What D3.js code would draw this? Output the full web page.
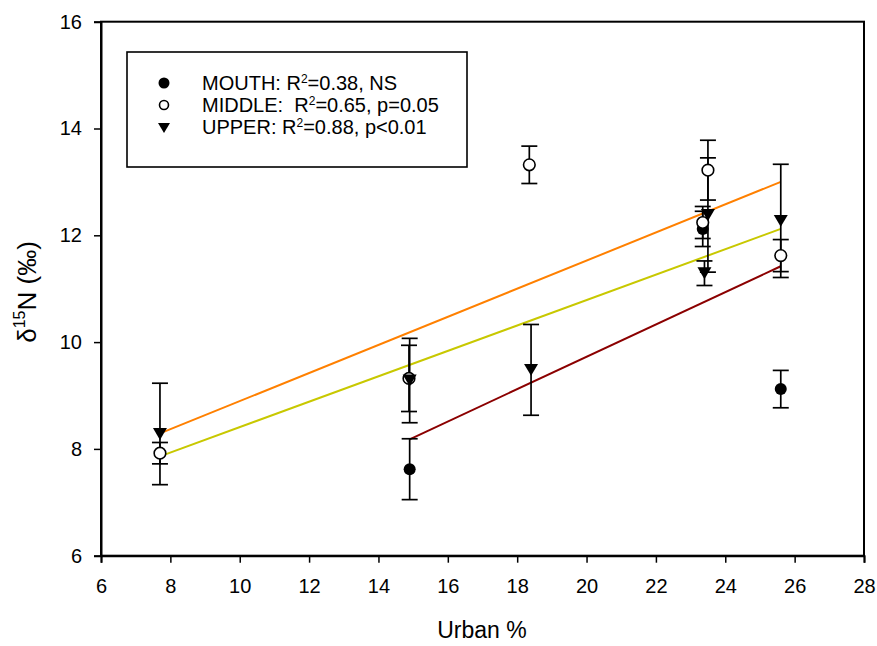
<!DOCTYPE html>
<html>
<head>
<meta charset="utf-8">
<script src="https://cdn.jsdelivr.net/npm/d3@7"></script>
<style>
  html, body { margin: 0; padding: 0; background: #fff; }
  svg { display: block; font-family: Arial, "Liberation Sans", sans-serif; }
</style>
</head>
<body>
<svg id="chart" width="877" height="646"></svg>
<script>
// Urban cover (%) vs. δ15N, three river reaches
const mouthX  = [14.9, 23.35, 25.6];
const mouthY  = [7.62, 12.12, 9.12];
const mouthSE = [0.57, 0.33, 0.35];

const middleX  = [7.7, 14.88, 18.35, 23.35, 23.5, 25.6];
const middleY  = [7.92, 9.32, 13.32, 12.24, 13.22, 11.62];
const middleSE = [0.2, 0.62, 0.35, 0.3, 0.56, 0.3];

const upperX  = [7.7, 14.9, 18.4, 23.4, 23.5, 25.6];
const upperY  = [8.28, 9.28, 9.48, 11.29, 12.38, 12.27];
const upperSE = [0.95, 0.79, 0.85, 0.23, 1.07, 1.06];

// Regression line end points [x, y]
const mouthFit  = [[14.9, 8.18], [25.6, 11.42]];
const middleFit = [[7.7, 7.86], [25.6, 12.12]];
const upperFit  = [[7.7, 8.29], [25.6, 13.0]];

const xTicks = [6, 8, 10, 12, 14, 16, 18, 20, 22, 24, 26, 28];
const yTicks = [6, 8, 10, 12, 14, 16];

const legendLabels = [
  { name: "MOUTH: R", sup: "2", rest: "=0.38, NS" },
  { name: "MIDDLE:\u00A0 R", sup: "2", rest: "=0.65, p=0.05" },
  { name: "UPPER: R", sup: "2", rest: "=0.88, p<0.01" }
];

const svg = d3.select("#chart");
const plotLeft = 101, plotRight = 864, plotTop = 21.7, plotBottom = 555.7;

const x = d3.scaleLinear().domain([6, 28]).range([plotLeft, plotRight]);
const y = d3.scaleLinear().domain([6, 16]).range([plotBottom, plotTop]);

// Frame
svg.append("rect")
  .attr("x", plotLeft).attr("y", plotTop)
  .attr("width", plotRight - plotLeft).attr("height", plotBottom - plotTop)
  .attr("fill", "none").attr("stroke", "#000").attr("stroke-width", 2);

// Axes
const xAxis = svg.append("g")
  .attr("transform", `translate(0,${plotBottom})`)
  .call(d3.axisBottom(x).tickValues(xTicks).tickSize(7).tickPadding(16).tickFormat(d3.format("d")));
const yAxis = svg.append("g")
  .attr("transform", `translate(${plotLeft},0)`)
  .call(d3.axisLeft(y).tickValues(yTicks).tickSize(7).tickPadding(12).tickFormat(d3.format("d")));

[xAxis, yAxis].forEach(g => {
  g.select(".domain").attr("stroke-width", 2);
  g.selectAll(".tick line").attr("stroke-width", 1.5);
  g.selectAll(".tick text")
    .attr("font-size", 20)
    .attr("font-family", "Arial, 'Liberation Sans', sans-serif")
    .attr("fill", "#000");
});

// Axis titles
svg.append("text")
  .attr("x", 482).attr("y", 638)
  .attr("text-anchor", "middle")
  .attr("font-size", 23)
  .text("Urban %");

const yTitle = svg.append("text")
  .attr("transform", "translate(36,292) rotate(-90)")
  .attr("text-anchor", "middle")
  .attr("font-size", 26);
yTitle.append("tspan").text("δ");
yTitle.append("tspan").attr("font-size", 16).attr("dy", -11).text("15");
yTitle.append("tspan").attr("dy", 11).text("N (‰)");

// Regression lines
const line = d3.line().x(d => x(d[0])).y(d => y(d[1]));
[[upperFit, "#FF8000"], [middleFit, "#C8C800"], [mouthFit, "#8B0000"]].forEach(([pts, col]) => {
  svg.append("path").attr("d", line(pts))
    .attr("fill", "none").attr("stroke", col).attr("stroke-width", 2);
});

// Series
function series(xs, ys, ses) {
  return xs.map((v, i) => ({ x: v, y: ys[i], se: ses[i] }));
}
const mouth = series(mouthX, mouthY, mouthSE);
const middle = series(middleX, middleY, middleSE);
const upper = series(upperX, upperY, upperSE);

function errorBars(data) {
  const g = svg.append("g").attr("stroke", "#000").attr("stroke-width", 1.7);
  data.forEach(d => {
    const cx = x(d.x);
    g.append("line").attr("x1", cx).attr("x2", cx)
      .attr("y1", y(d.y + d.se)).attr("y2", y(d.y - d.se));
    [d.y + d.se, d.y - d.se].forEach(v => {
      g.append("line").attr("x1", cx - 8).attr("x2", cx + 8)
        .attr("y1", y(v)).attr("y2", y(v));
    });
  });
}
errorBars(mouth);
errorBars(middle);
errorBars(upper);

const triangle = (s) => `M${-s},${-s * 0.85}L${s},${-s * 0.85}L0,${s * 0.85}Z`;

function drawFilled(g, cx, cy, r) {
  g.append("circle").attr("cx", cx).attr("cy", cy).attr("r", r).attr("fill", "#000");
}
function drawOpen(g, cx, cy, r) {
  g.append("circle").attr("cx", cx).attr("cy", cy).attr("r", r)
    .attr("fill", "#fff").attr("stroke", "#000").attr("stroke-width", 1.6);
}
function drawTri(g, cx, cy, s) {
  g.append("path").attr("d", triangle(s))
    .attr("transform", `translate(${cx},${cy})`).attr("fill", "#000");
}

const marks = svg.append("g");
mouth.forEach(d => drawFilled(marks, x(d.x), y(d.y), 6));
middle.forEach(d => drawOpen(marks, x(d.x), y(d.y), 5.8));
upper.forEach(d => drawTri(marks, x(d.x), y(d.y), 7));

// Legend
const lg = svg.append("g");
lg.append("rect").attr("x", 127).attr("y", 52).attr("width", 340).attr("height", 115)
  .attr("fill", "#fff").attr("stroke", "#000").attr("stroke-width", 1.6);
const rowY = [83, 105, 127];
drawFilled(lg, 164, rowY[0], 5.5);
drawOpen(lg, 164, rowY[1], 4.5);
drawTri(lg, 164, rowY[2] + 1, 6);
legendLabels.forEach((l, i) => {
  const t = lg.append("text").attr("x", 202).attr("y", rowY[i] + 7).attr("font-size", 20);
  t.append("tspan").text(l.name);
  t.append("tspan").attr("font-size", 12).attr("dy", -7).text(l.sup);
  t.append("tspan").attr("dy", 7).text(l.rest);
});
</script>
</body>
</html>
